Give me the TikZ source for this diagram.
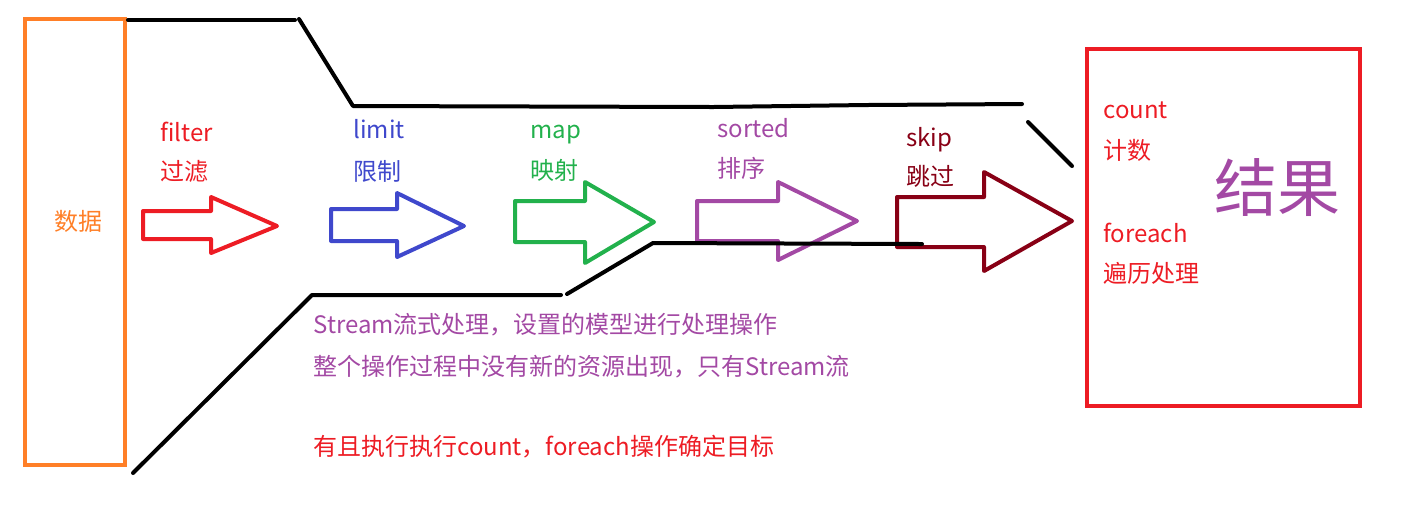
\documentclass[tikz,border=0pt]{standalone}
\usepackage{fontspec}
\setmainfont{Noto Sans CJK SC}
\definecolor{cOrange}{HTML}{FF7F27}
\definecolor{cRed}{HTML}{ED1C24}
\definecolor{cBlue}{HTML}{3F48CC}
\definecolor{cGreen}{HTML}{22B14C}
\definecolor{cPurple}{HTML}{A349A4}
\definecolor{cDark}{HTML}{880015}
\newcommand{\blockarrow}[9]{%
  \draw[pen, draw=#1] (#2,#3) -- (#5,#3) -- (#5,#6) -- (#8,#9) -- (#5,#7) -- (#5,#4) -- (#2,#4) -- cycle;}
\begin{document}
\begin{tikzpicture}[x=0.5pt,y=-0.5pt,
  lbl/.style={anchor=base west, inner sep=0pt, font=\fontsize{12}{14}\selectfont},
  pen/.style={line width=2pt, line cap=round, line join=round},
  boxstyle/.style={draw, line width=2pt, inner sep=0pt, fill=none}]
\useasboundingbox (0,0) rectangle (1417,516);
% boxes
\node[boxstyle, draw=cOrange, minimum width=50pt, minimum height=223pt] (data) at (75,242) {};
\node[boxstyle, draw=cRed, minimum width=136.5pt, minimum height=178.5pt] (result) at (1223.5,227.5) {};
% block arrows
\blockarrow{cRed}{143}{211}{239}{211}{197}{253}{277}{226}
\blockarrow{cBlue}{331}{209}{241}{397}{193}{257}{464}{226}
\blockarrow{cGreen}{515}{201}{242}{585}{182}{263}{654}{222}
\blockarrow{cPurple}{697}{201}{241}{778}{182}{260}{857}{221}
\blockarrow{cDark}{897}{197}{247}{984}{172}{271}{1072}{221}
% black channel lines
\draw[pen] (128,20) -- (295,20);
\draw[pen] (299,19) -- (353,106) -- (713,107) -- (867,105) -- (1022,104);
\draw[pen] (1028,122) -- (1072,166);
\draw[pen] (133,473) -- (312,295) -- (561,295);
\draw[pen] (567,294) -- (653,243) -- (922,244);
% labels
\node[lbl, text=cOrange] (tdata) at (54,230) {数据};
\node[lbl, text=cRed] (t1) at (160,141) {filter};
\node[lbl, text=cRed] (t1b) at (160,180) {过滤};
\node[lbl, text=cBlue] (t2) at (353,138) {limit};
\node[lbl, text=cBlue] (t2b) at (353,180) {限制};
\node[lbl, text=cGreen] (t3) at (530,138) {map};
\node[lbl, text=cGreen] (t3b) at (530,179) {映射};
\node[lbl, text=cPurple] (t4) at (717,137) {sorted};
\node[lbl, text=cPurple] (t4b) at (717,177) {排序};
\node[lbl, text=cDark] (t5) at (906,146) {skip};
\node[lbl, text=cDark] (t5b) at (906,185) {跳过};
\node[lbl, text=cRed] (t6) at (1103,118) {count};
\node[lbl, text=cRed] (t6b) at (1103,159) {计数};
\node[lbl, text=cRed] (t7) at (1103,242) {foreach};
\node[lbl, text=cRed] (t7b) at (1103,282) {遍历处理};
\node[lbl, text=cPurple, font=\fontsize{31.5}{34}\selectfont] (tres) at (1214,211) {结果};
\node[lbl, text=cPurple] (n1) at (313,333) {Stream流式处理，设置的模型进行处理操作};
\node[lbl, text=cPurple] (n2) at (313,375) {整个操作过程中没有新的资源出现，只有Stream流};
\node[lbl, text=cRed] (n3) at (313,455) {有且执行执行count，foreach操作确定目标};
\end{tikzpicture}
\end{document}
